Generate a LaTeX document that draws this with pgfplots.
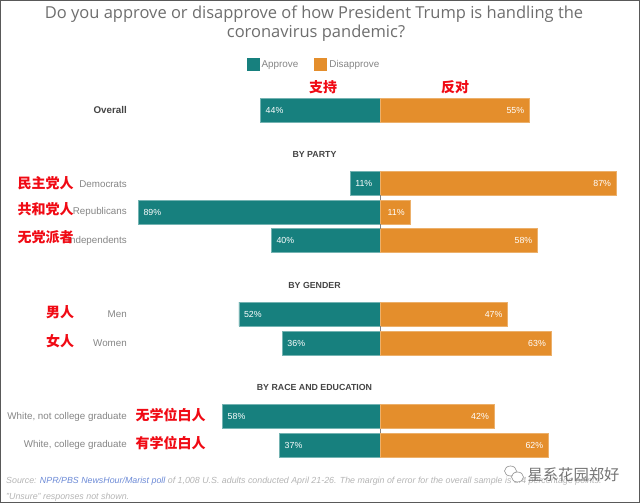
\documentclass[border=0pt]{standalone}
\usepackage{pgfplots}
\pgfplotsset{compat=1.18}
\usepackage{fontspec}
\setmainfont{Liberation Sans}
\newfontfamily\titlefont{Open Sans}
\newfontfamily\cjk{Noto Sans CJK SC}
\definecolor{teal1}{HTML}{17807E}
\definecolor{orange1}{HTML}{E48E2C}
\definecolor{tit}{HTML}{6E6E6E}
\definecolor{lab}{HTML}{858585}
\definecolor{hed}{HTML}{444444}
\definecolor{src}{HTML}{B4B4B4}
\definecolor{lnk}{HTML}{6C8AD6}
\definecolor{cred}{HTML}{F00A14}
\newcommand\lb[4][lab]{\node[anchor=east,inner sep=0pt,text=#1,font=\fontsize{9.8}{11}\selectfont] at (#2,#3) {#4};}
\newcommand\rd[3]{\node[inner sep=0pt,text=cred,font=\cjk\bfseries\fontsize{14}{16}\selectfont] at (#1,#2) {#3};}
\newcommand\hd[2]{\node[inner sep=0pt,text=hed,font=\bfseries\fontsize{8.8}{10}\selectfont] at (314.5,#1) {#2};}
\begin{document}
\begin{tikzpicture}
\begin{axis}[
  at={(0,0)},anchor=north west,
  scale only axis,width=640pt,height=503pt,
  hide axis,
  xmin=-139.96,xmax=95.76,ymin=0,ymax=503,y dir=reverse,
  xbar,bar shift=0pt,bar width=24pt,
  clip=false,
  nodes near coords,
  point meta=explicit symbolic,
  nodes near coords style={text=white,font=\fontsize{8.8}{10}\selectfont,inner sep=0pt},
  legend columns=2,
  legend style={draw=none,fill=none,at={(0.4906,0.871)},anchor=center,
    font=\fontsize{9.9}{11}\selectfont,text=lab,inner sep=0pt,
    /tikz/every even column/.append style={column sep=14pt}},
  legend image code/.code={\fill[#1,draw=none] (-1pt,-6.5pt) rectangle (12pt,6.5pt);},
]
\addplot[fill=teal1,draw=teal1!60!white,line width=0.4pt,
  nodes near coords style={anchor=west,xshift=5pt}] coordinates {
  (-44,110)[44\%]
  (-11,183)[11\%]
  (-89,212)[89\%]
  (-40,240.5)[40\%]
  (-52,314)[52\%]
  (-36,343)[36\%]
  (-58,416.5)[58\%]
  (-37,445)[37\%]
};
\addlegendentry{Approve}
\addplot[fill=orange1,draw=orange1!70!white,line width=0.4pt,
  nodes near coords style={anchor=east,xshift=-5pt}] coordinates {
  (55,110)[55\%]
  (87,183)[87\%]
  (11,212)[11\%]
  (58,240.5)[58\%]
  (47,314)[47\%]
  (63,343)[63\%]
  (42,416.5)[42\%]
  (62,445)[62\%]
};
\addlegendentry{Disapprove}
\addplot[forget plot,sharp plot,no marks,draw=gray,line width=0.6pt,nodes near coords=] coordinates {(0,195)(0,200)};
\addplot[forget plot,sharp plot,no marks,draw=gray,line width=0.6pt,nodes near coords=] coordinates {(0,224)(0,229)};
\addplot[forget plot,sharp plot,no marks,draw=gray,line width=0.6pt,nodes near coords=] coordinates {(0,326)(0,331)};
\addplot[forget plot,sharp plot,no marks,draw=gray,line width=0.6pt,nodes near coords=] coordinates {(0,429)(0,433)};
\end{axis}
\begin{scope}[x=1pt,y=-1pt]
\draw[color=black!65,line width=1pt] (0.5,0.5) rectangle (639.5,502.5);
\node[inner sep=0pt,text=tit,font=\titlefont\fontsize{16.5}{18}\selectfont] at (314,14) {Do you approve or disapprove of how President Trump is handling the};
\node[inner sep=0pt,text=tit,font=\titlefont\fontsize{16.5}{18}\selectfont] at (316,33) {coronavirus pandemic?};
\rd{323}{87}{支持}
\rd{455}{87}{反对}
\lb[hed]{127}{110}{\bfseries Overall}
\hd{154.5}{BY PARTY}
\hd{285.5}{BY GENDER}
\hd{387.5}{BY RACE AND EDUCATION}
\lb{127}{184}{Democrats}
\lb{127}{212}{Republicans}
\lb{127}{240.5}{Independents}
\lb{127}{314.5}{Men}
\lb{127}{343}{Women}
\lb{127}{416.5}{White, not college graduate}
\lb{127}{445}{White, college graduate}
\rd{45.5}{183}{民主党人}
\rd{45.5}{209}{共和党人}
\rd{45.5}{237}{无党派者}
\rd{60}{312}{男人}
\rd{60}{341}{女人}
\rd{170.5}{415}{无学位白人}
\rd{170.5}{443}{有学位白人}
\node[anchor=west,inner sep=0pt,text=src,font=\itshape\fontsize{8.85}{10}\selectfont] at (6,481.5) {Source: \textcolor{lnk}{NPR/PBS NewsHour/Marist poll} of 1,008 U.S. adults conducted April 21-26. The margin of error for the overall sample is 3.4 percentage points.};
\node[anchor=west,inner sep=0pt,text=src,font=\itshape\fontsize{8.85}{10}\selectfont] at (6,497) {"Unsure" responses not shown.};
\draw[black!45,line width=0.6pt,fill=white] (510.5,471) ellipse (6 and 5);
\draw[black!45,line width=0.6pt,fill=white] (517.5,477) ellipse (6 and 5);
\node[inner sep=0pt,text=black!55,font=\cjk\fontsize{15.3}{17}\selectfont] at (573.5,475) {星系花园郑好};
\end{scope}
\end{tikzpicture}
\end{document}
